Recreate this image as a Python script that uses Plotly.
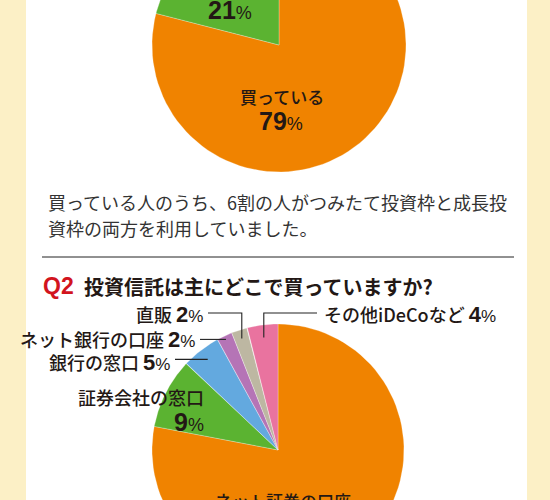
import numpy as np
import plotly.graph_objects as go

# --- データ ---
q1_labels = ["買っている", "買っていない"]
q1_values = [79, 21]
q1_colors = ["#F08300", "#5BB331"]

q2_labels = ["ネット証券の口座", "証券会社の窓口", "銀行の窓口",
             "ネット銀行の口座", "直販", "その他iDeCoなど"]
q2_values = [78, 9, 5, 2, 2, 4]
q2_colors = ["#F08300", "#5BB331", "#63A9DF", "#B574B6", "#BDB7A2", "#E9739F"]

note_lines = ["買っている人のうち、6割の人がつみたて投資枠と成長投",
              "資枠の両方を利用していました。"]
q2_title = "投資信託は主にどこで買っていますか?"

JP = "Noto Sans CJK JP"
INK = "#231815"


def pct(v, size=22, psize=17):
    # 数字は太字、% は細く小さく
    return (f"<span style='font-family:Liberation Sans;font-size:{size}px'><b>{v}</b></span>"
            f"<span style='font-family:Liberation Sans;font-size:{psize}px'>%</span>")


def add_pie(fig, cx, cy, r, values, colors):
    # 12時の位置から時計回りに扇形を描く
    total = sum(values)
    edges = np.cumsum([0] + list(values)) / total * 2 * np.pi
    mids = []
    for a0, a1, c in zip(edges[:-1], edges[1:], colors):
        t = np.linspace(a0, a1, 90)
        xs = np.concatenate([[cx], cx + r * np.sin(t), [cx]])
        ys = np.concatenate([[cy], cy - r * np.cos(t), [cy]])
        fig.add_trace(go.Scatter(x=xs, y=ys, mode="lines", fill="toself",
                                 fillcolor=c, line=dict(color="rgba(255,255,255,0.45)", width=0.6),
                                 hoverinfo="skip"))
        mids.append((a0 + a1) / 2)
    return mids


fig = go.Figure()

# 背景の白いパネル
fig.add_shape(type="rect", x0=26, x1=527, y0=-5, y1=505, fillcolor="white",
              line_width=0, layer="below")

# Q1 の円グラフ(上部が切れている)
add_pie(fig, 279, 45, 127, q1_values, q1_colors)
fig.add_annotation(x=230, y=10, text=pct(q1_values[1], 25, 18), showarrow=False)
fig.add_annotation(x=282, y=96, text=q1_labels[0], showarrow=False,
                   font=dict(family=JP, size=17, color=INK, weight=500))
fig.add_annotation(x=281, y=121, text=pct(q1_values[0], 25, 18), showarrow=False)

# 説明文
for i, line in enumerate(note_lines):
    fig.add_annotation(x=46, y=202 + 26 * i, text=line, xanchor="left", showarrow=False,
                       font=dict(family=JP, size=18, color="#333333"))

# 区切り線
fig.add_shape(type="line", x0=42, x1=514, y0=257, y1=257, line=dict(color="#222222", width=1))

# Q2 見出し
fig.add_annotation(x=41, y=286, xanchor="left", showarrow=False,
                   text="<b>Q2</b>", font=dict(family="Liberation Sans", size=23, color="#D2141E"))
fig.add_annotation(x=82, y=286, xanchor="left", showarrow=False,
                   text=f"<b>{q2_title}</b>", font=dict(family=JP, size=20, color=INK))

# Q2 の円グラフ(下部が切れている)
cx2, cy2, r2 = 278, 450, 126
mids = add_pie(fig, cx2, cy2, r2, q2_values, q2_colors)

# 外側ラベルと引き出し線
outer = {
    # index: (ラベル x, ラベル y, xanchor, 線の半径比)
    2: (172, 362, "right", 0.91),
    3: (197, 339, "right", 0.97),
    4: (205, 314, "right", 0.93),
    5: (322, 314, "left", 0.9),
}
for i, (lx, ly, anchor, k) in outer.items():
    ex = cx2 + k * r2 * np.sin(mids[i])
    ey = cy2 - k * r2 * np.cos(mids[i])
    sx = lx + 3 if anchor == "right" else lx - 5
    if abs(ey - ly) < 5:
        xs, ys = [sx, ex], [ey, ey]
    else:
        xs, ys = [sx, ex, ex], [ly - 1, ly - 1, ey]
    fig.add_trace(go.Scatter(x=xs, y=ys, mode="lines", line=dict(color="#222222", width=1.1),
                             hoverinfo="skip"))
    fig.add_annotation(x=lx, y=ly, xanchor=anchor, showarrow=False,
                       text=f"{q2_labels[i]} {pct(q2_values[i])}",
                       font=dict(family=JP, size=18, color=INK, weight=500))

# 内側ラベル
fig.add_annotation(x=206, y=397, xanchor="right", showarrow=False, text=q2_labels[1],
                   font=dict(family=JP, size=18, color=INK, weight=500))
fig.add_annotation(x=206, y=422, xanchor="right", showarrow=False, text=pct(q2_values[1], 25, 18))
fig.add_annotation(x=283, y=500, showarrow=False, text=q2_labels[0],
                   font=dict(family=JP, size=17, color=INK, weight=500))

fig.update_layout(
    width=550, height=500,
    margin=dict(l=0, r=0, t=0, b=0),
    paper_bgcolor="#FCF0C6",
    plot_bgcolor="rgba(0,0,0,0)",
    showlegend=False,
    font=dict(family=JP, color=INK),
    xaxis=dict(range=[0, 550], visible=False, fixedrange=True),
    yaxis=dict(range=[500, 0], visible=False, fixedrange=True),
)

# ページの余白をなくして 550x500 にぴったり合わせる
fig.write_html("out.html", config={"displayModeBar": False},
               post_script="document.body.style.margin='0px';")
